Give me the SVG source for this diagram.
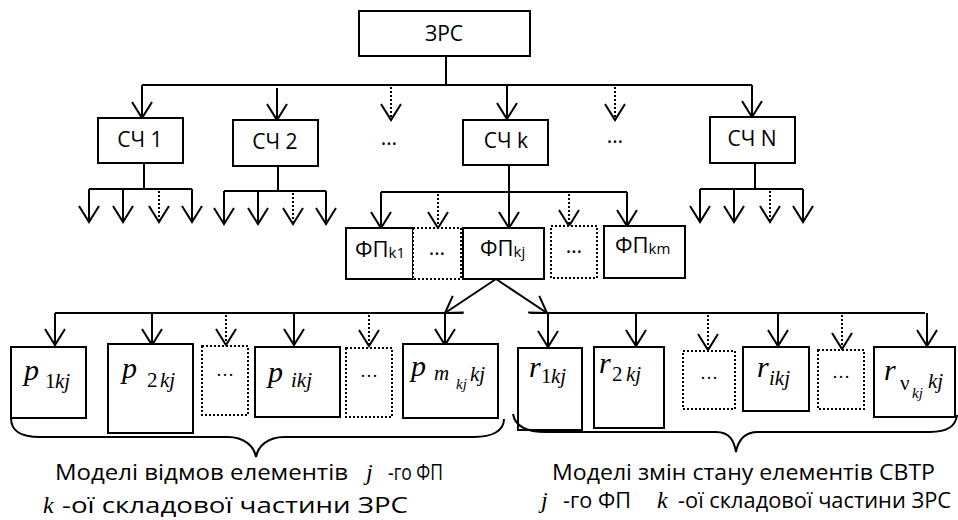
<svg xmlns="http://www.w3.org/2000/svg" width="958" height="520" viewBox="0 0 958 520">
<style>
.box{fill:#fff;stroke:#000;stroke-width:2}
.dbox{fill:#fff;stroke:#000;stroke-width:2;stroke-dasharray:2,2}
.ln{fill:none;stroke:#000;stroke-width:2}
.ar{fill:none;stroke:#000;stroke-width:2;marker-end:url(#ah)}
.dar{fill:none;stroke:#000;stroke-width:2;stroke-dasharray:2,2;marker-end:url(#ah)}
.lbl{font-family:"Open Sans","Liberation Sans",sans-serif;font-size:21px;fill:#000}
.fp{font-family:"Open Sans","Liberation Sans",sans-serif;font-size:22px;fill:#000}
.c{text-anchor:middle}
.sb{font-family:"Open Sans","Liberation Sans",sans-serif;font-size:15px;fill:#000}
.mi{font-family:"Liberation Serif","Times New Roman",serif;font-style:italic;font-size:30px;fill:#000}
.ms{font-family:"Liberation Serif","Times New Roman",serif;font-style:italic;font-size:21px;fill:#000}
.mu{font-family:"Liberation Serif","Times New Roman",serif;font-size:21px;fill:#000}
.mss{font-family:"Liberation Serif","Times New Roman",serif;font-style:italic;font-size:15px;fill:#000}
.el{font-family:"Liberation Serif","Times New Roman",serif;font-size:18px;fill:#000;text-anchor:middle}
.cap{font-family:"Open Sans","Liberation Sans",sans-serif;font-size:22px;fill:#000}
.capi{font-family:"Liberation Serif","Times New Roman",serif;font-style:italic;font-size:24px;fill:#000}
</style>
<defs>
<marker id="ah" viewBox="-18 -12 20 24" markerWidth="20" markerHeight="24" refX="0" refY="0" orient="auto" markerUnits="userSpaceOnUse" overflow="visible">
<path d="M-16,-10 L0,0 L-16,10" fill="none" stroke="#000" stroke-width="2"/>
</marker>
</defs>

<g id="connectors">
<path class="ln" d="M446,56 V85 M142,85 H752"/>
<path class="ar" d="M142,85 V118"/>
<path class="ar" d="M277,88 V120"/>
<path class="dar" d="M391,87 V120"/>
<path class="ar" d="M507,85 V119"/>
<path class="dar" d="M615,87 V120"/>
<path class="ar" d="M752,85 V117"/>

<path class="ln" d="M144,163 V189 M89,189 H192"/>
<path class="ar" d="M89,189 V222"/>
<path class="ar" d="M123,189 V222"/>
<path class="dar" d="M159,191 V222"/>
<path class="ar" d="M192,189 V222"/>

<path class="ln" d="M278,166 V191 M224,191 H326"/>
<path class="ar" d="M224,191 V224"/>
<path class="ar" d="M258,191 V224"/>
<path class="dar" d="M293,193 V224"/>
<path class="ar" d="M326,191 V224"/>

<path class="ln" d="M509,165 V192 M381,192 H627"/>
<path class="ar" d="M381,192 V228"/>
<path class="dar" d="M438,194 V228"/>
<path class="ar" d="M509,192 V228"/>
<path class="dar" d="M569,194 V226"/>
<path class="ar" d="M627,192 V226"/>

<path class="ln" d="M755,163 V189 M700,189 H803"/>
<path class="ar" d="M700,189 V222"/>
<path class="ar" d="M734,189 V222"/>
<path class="dar" d="M770,191 V222"/>
<path class="ar" d="M803,189 V222"/>

<path class="ar" d="M496,279 L445,313"/>
<path class="ar" d="M496,279 L547,313"/>

<path class="ln" d="M55,313 H463"/>
<path class="ar" d="M55,313 V345"/>
<path class="ar" d="M152,313 V345"/>
<path class="dar" d="M226,315 V345"/>
<path class="ar" d="M294,313 V345"/>
<path class="dar" d="M369,315 V346"/>
<path class="ar" d="M445,313 V345"/>

<path class="ln" d="M530,313 H925"/>
<path class="ar" d="M548,313 V347"/>
<path class="ar" d="M636,313 V346"/>
<path class="dar" d="M708,315 V350"/>
<path class="ar" d="M778,313 V346"/>
<path class="dar" d="M842,315 V349"/>
<path class="ar" d="M927,313 V346"/>
</g>

<g id="n-zrs"><rect class="box" x="359" y="11" width="171" height="45"/><text class="lbl c" x="444" y="41">ЗРС</text></g>
<g id="n-sch1"><rect class="box" x="98" y="118" width="85" height="45"/><text class="lbl c" x="140" y="147">СЧ 1</text></g>
<g id="n-sch2"><rect class="box" x="233" y="120" width="85" height="46"/><text class="lbl c" x="275" y="149">СЧ 2</text></g>
<g id="n-dots1"><text class="lbl c" x="389" y="145">…</text></g>
<g id="n-schk"><rect class="box" x="463" y="120" width="85" height="45"/><text class="lbl c" x="506" y="148">СЧ k</text></g>
<g id="n-dots2"><text class="lbl c" x="615" y="143">…</text></g>
<g id="n-schn"><rect class="box" x="710" y="117" width="85" height="46"/><text class="lbl c" x="752" y="146">СЧ N</text></g>

<g id="n-fpk1"><rect class="box" x="346" y="228" width="67" height="51"/><text class="fp" x="355" y="257">ФП<tspan class="sb" dy="1">k1</tspan></text></g>
<g id="n-fpd1"><rect class="dbox" x="413" y="228" width="48" height="51"/><text class="lbl c" x="437" y="255">…</text></g>
<g id="n-fpkj"><rect class="box" x="463" y="228" width="81" height="51"/><text class="fp" x="480" y="256">ФП<tspan class="sb" dy="1">kj</tspan></text></g>
<g id="n-fpd2"><rect class="dbox" x="551" y="226" width="46" height="52"/><text class="lbl c" x="574" y="253">…</text></g>
<g id="n-fpkm"><rect class="box" x="604" y="226" width="81" height="52"/><text class="fp" x="615" y="253">ФП<tspan class="sb" dy="1">km</tspan></text></g>

<g id="n-p1"><rect class="box" x="11" y="347" width="75" height="71"/><text class="mi" x="24" y="380">p</text><text class="mu" x="45" y="388">1</text><text class="ms" x="55" y="388">kj</text></g>
<g id="n-p2"><rect class="box" x="108" y="344" width="85" height="89"/><text class="mi" x="122" y="378">p</text><text class="mu" x="147" y="387">2</text><text class="ms" x="160" y="387">kj</text></g>
<g id="n-pd1"><rect class="dbox" x="202" y="346" width="46" height="69"/><text class="el" x="225" y="376">…</text></g>
<g id="n-pi"><rect class="box" x="255" y="347" width="85" height="70"/><text class="mi" x="268" y="382">p</text><text class="ms" x="291" y="387">ikj</text></g>
<g id="n-pd2"><rect class="dbox" x="346" y="348" width="46" height="69"/><text class="el" x="369" y="377">…</text></g>
<g id="n-pm"><rect class="box" x="403" y="344" width="95" height="74"/><text class="mi" x="411" y="376">p</text><text class="ms" x="434" y="380">m</text><text class="mss" x="456" y="389">kj</text><text class="ms" x="470" y="381">kj</text></g>

<g id="n-r1"><rect class="box" x="518" y="348" width="64" height="82"/><text class="mi" x="529" y="377">r</text><text class="mu" x="541" y="383">1</text><text class="ms" x="551" y="383">kj</text></g>
<g id="n-r2"><rect class="box" x="594" y="347" width="70" height="81"/><text class="mi" x="599" y="373">r</text><text class="mu" x="612" y="381">2</text><text class="ms" x="626" y="381">kj</text></g>
<g id="n-rd1"><rect class="dbox" x="683" y="351" width="52" height="58"/><text class="el" x="709" y="379">…</text></g>
<g id="n-ri"><rect class="box" x="743" y="347" width="66" height="64"/><text class="mi" x="757" y="377">r</text><text class="ms" x="769" y="385">ikj</text></g>
<g id="n-rd2"><rect class="dbox" x="818" y="350" width="46" height="59"/><text class="el" x="841" y="378">…</text></g>
<g id="n-rv"><rect class="box" x="874" y="347" width="81" height="70"/><text class="mi" x="884" y="380">r</text><text class="mu" x="900" y="390">ν</text><text class="mss" x="912" y="398">kj</text><text class="ms" x="928" y="388">kj</text></g>

<g id="brace-left">
<path class="ln" d="M11,418 C11,431 20,437 40,437 L228,437 C244,437 254,446 256,457 C258,446 268,437 284,437 L474,437 C492,437 504,431 504,419"/>
<text class="cap" x="55" y="480" textLength="293" lengthAdjust="spacingAndGlyphs">Моделі відмов елементів</text>
<text class="capi" x="366" y="480">j</text>
<text class="cap" x="388" y="480" textLength="55" lengthAdjust="spacingAndGlyphs">-го ФП</text>
<text class="capi" x="43" y="513">k</text>
<text class="cap" x="62" y="513" textLength="346" lengthAdjust="spacingAndGlyphs">-ої складової частини ЗРС</text>
</g>

<g id="brace-right">
<path class="ln" d="M513,414 C515,426 526,432 546,432 L716,432 C730,432 734,441 736,452 C738,441 744,432 758,432 L930,432 C948,432 956,425 957,415"/>
<text class="cap" x="552" y="480" textLength="383" lengthAdjust="spacingAndGlyphs">Моделі змін стану елементів СВТР</text>
<text class="capi" x="541" y="508">j</text>
<text class="cap" x="563" y="508" textLength="68" lengthAdjust="spacingAndGlyphs">-го ФП</text>
<text class="capi" x="657" y="508">k</text>
<text class="cap" x="678" y="508" textLength="273" lengthAdjust="spacingAndGlyphs">-ої складової частини ЗРС</text>
</g>
</svg>
